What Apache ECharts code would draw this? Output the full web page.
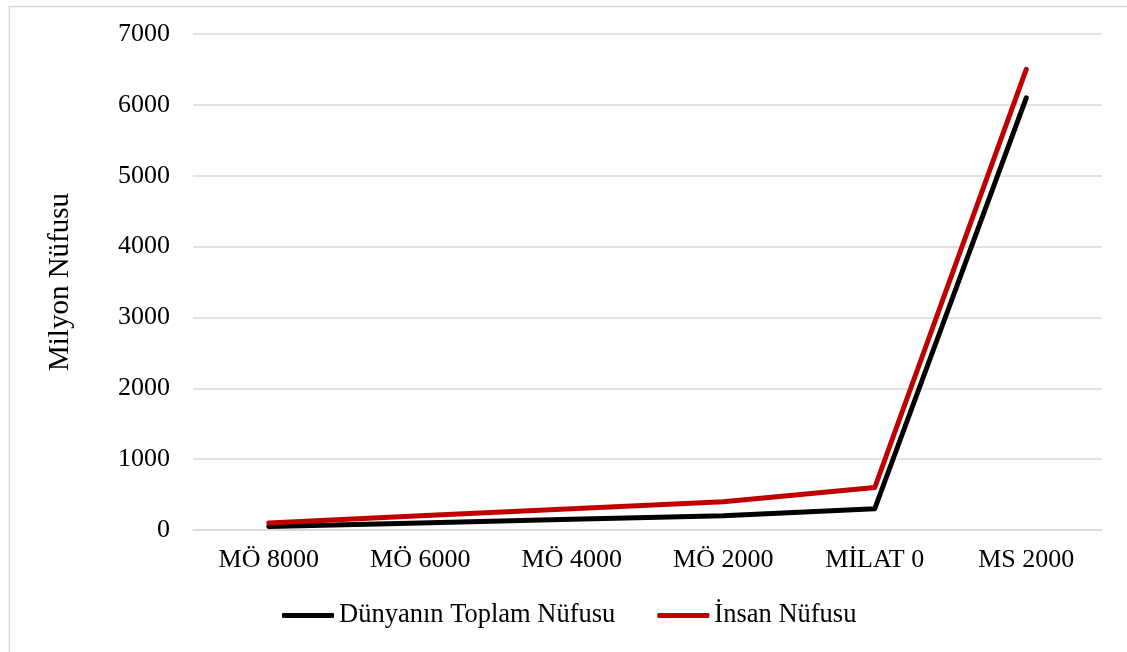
<!DOCTYPE html>
<html>
<head>
<meta charset="utf-8">
<script src="https://cdn.jsdelivr.net/npm/echarts@6/dist/echarts.min.js"></script>
<style>
html,body{margin:0;padding:0;background:#fff;}
#c{width:1127px;height:652px;}
</style>
</head>
<body>
<div id="c"></div>
<script>
const categories = ['MÖ 8000', 'MÖ 6000', 'MÖ 4000', 'MÖ 2000', 'MİLAT 0', 'MS 2000'];
const dunyaToplam = [50, 100, 150, 200, 300, 6100];
const insanNufusu = [100, 200, 300, 400, 600, 6500];
const seriesNames = ['Dünyanın Toplam Nüfusu', 'İnsan Nüfusu'];
const yTicks = { min: 0, max: 7000, interval: 1000 };

const font = 'Liberation Serif, Times New Roman, serif';
const chart = echarts.init(document.getElementById('c'));
chart.setOption({
  animation: false,
  graphic: [{
    type: 'rect', left: 7, top: 4,
    shape: { width: 1140, height: 670 },
    style: { fill: 'none', stroke: '#d9d9d9', lineWidth: 1.5 },
    silent: true
  }],
  grid: { left: 193, right: 25, top: 34, bottom: 122 },
  xAxis: {
    type: 'category', data: categories, boundaryGap: true,
    axisLine: { show: true, lineStyle: { color: '#d9d9d9', width: 1.5 } },
    axisTick: { show: false },
    axisLabel: { color: '#000', fontFamily: font, fontSize: 26, margin: 17 }
  },
  yAxis: {
    type: 'value', min: yTicks.min, max: yTicks.max, interval: yTicks.interval,
    name: 'Milyon Nüfusu', nameLocation: 'middle', nameGap: 118,
    nameTextStyle: { color: '#000', fontFamily: font, fontSize: 29 },
    axisLine: { show: false }, axisTick: { show: false },
    splitLine: { lineStyle: { color: '#d9d9d9', width: 1.5 } },
    axisLabel: { color: '#000', fontFamily: font, fontSize: 26, margin: 23,
      formatter: v => String(v) }
  },
  legend: {
    bottom: 18, left: 277, itemWidth: 52, itemHeight: 5, itemGap: 42,
    textStyle: { color: '#000', fontFamily: font, fontSize: 26.5 },
    data: seriesNames.map(n => ({ name: n, icon: 'roundRect' }))
  },
  series: [
    { name: seriesNames[0], type: 'line', data: dunyaToplam, symbol: 'none',
      lineStyle: { color: '#000', width: 5, cap: 'round', join: 'round' }, itemStyle: { color: '#000' } },
    { name: seriesNames[1], type: 'line', data: insanNufusu, symbol: 'none',
      lineStyle: { color: '#c00000', width: 5, cap: 'round', join: 'round' }, itemStyle: { color: '#c00000' } }
  ]
});
</script>
</body>
</html>
